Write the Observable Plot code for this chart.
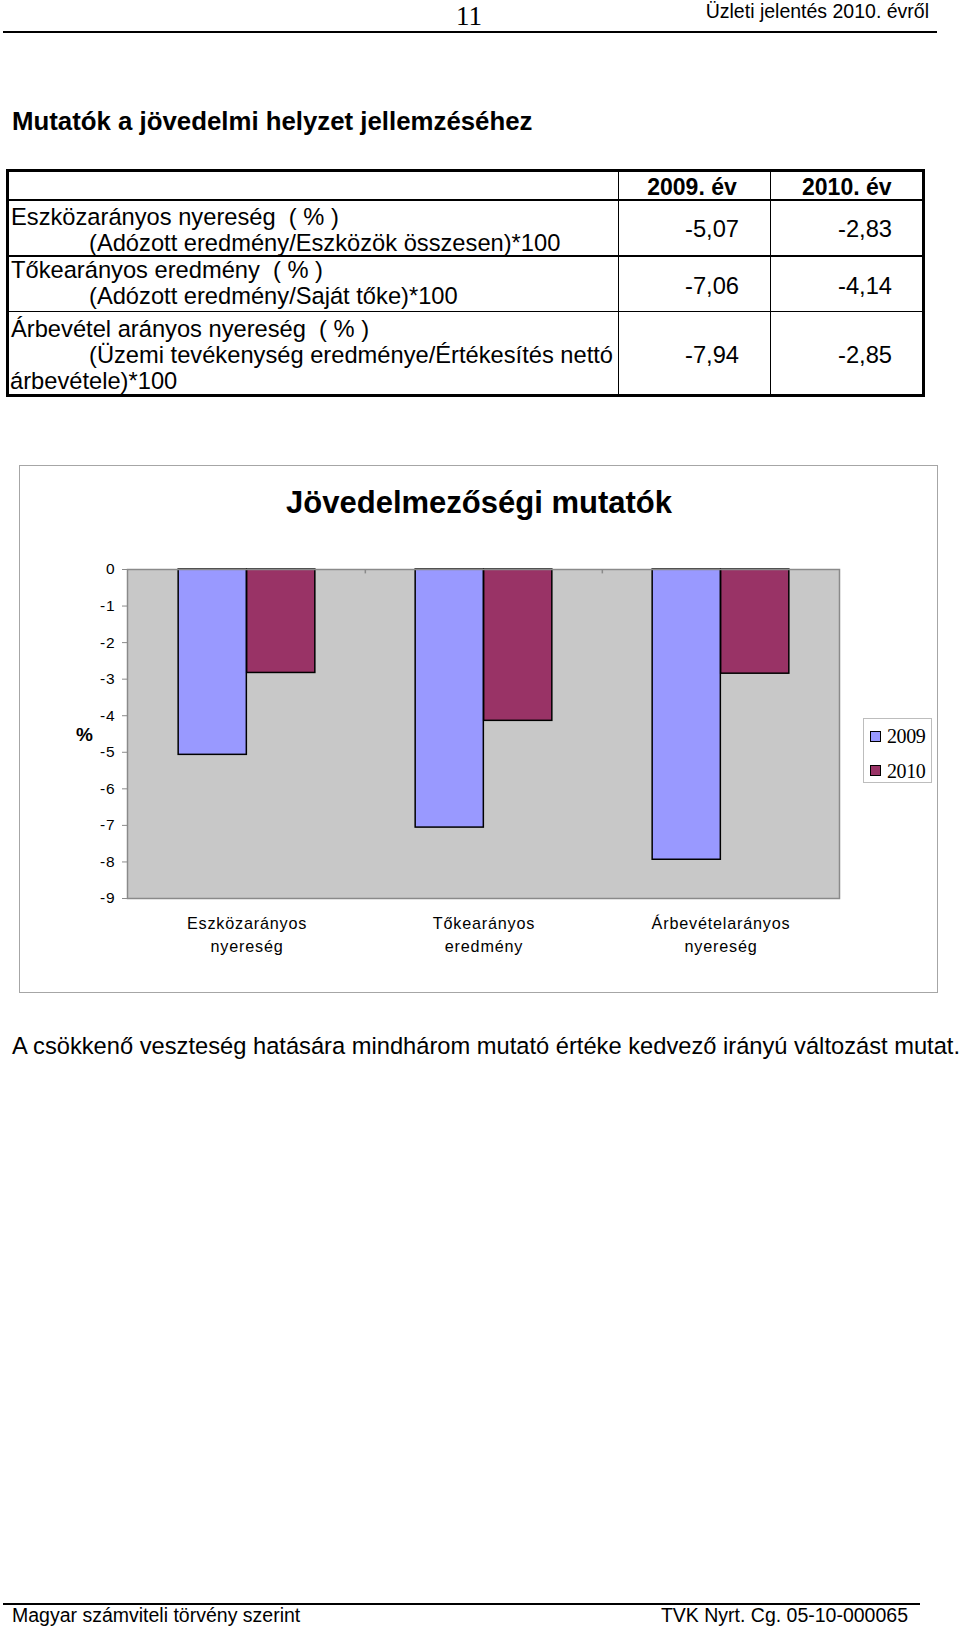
<!DOCTYPE html>
<html><head><meta charset="utf-8">
<script src="https://cdn.jsdelivr.net/npm/d3@7"></script>
<script src="https://cdn.jsdelivr.net/npm/@observablehq/plot@0.6"></script>
<style>
html,body{margin:0;padding:0;background:#fff;}
#page{position:relative;width:960px;height:1626px;overflow:hidden;font-family:"Liberation Sans",Arial,Helvetica,sans-serif;color:#000;}
.abs{position:absolute;white-space:nowrap;}
svg text{letter-spacing:0.8px;}
</style></head><body><div id="page"></div>
<script>
// ---- data ----
const pageNumber = "11";
const headerRight = "Üzleti jelentés 2010. évről";
const sectionTitle = "Mutatók a jövedelmi helyzet jellemzéséhez";
const tableYears = ["2009. év", "2010. év"];
const indicatorNames = ["Eszközarányos nyereség  ( % )", "Tőkearányos eredmény  ( % )", "Árbevétel arányos nyereség  ( % )"];
const indicatorFormulas = [
  ["(Adózott eredmény/Eszközök összesen)*100"],
  ["(Adózott eredmény/Saját tőke)*100"],
  ["(Üzemi tevékenység eredménye/Értékesítés nettó", "árbevétele)*100"]
];
const values2009 = [-5.07, -7.06, -7.94];
const values2010 = [-2.83, -4.14, -2.85];
const chartTitle = "Jövedelmezőségi mutatók";
const categories = ["Eszközarányos\nnyereség", "Tőkearányos\neredmény", "Árbevételarányos\nnyereség"];
const seriesNames = ["2009", "2010"];
const seriesColors = ["#9999ff", "#993366"];
const yTicks = [0, -1, -2, -3, -4, -5, -6, -7, -8, -9];
const yLabel = "%";
const conclusion = "A csökkenő veszteség hatására mindhárom mutató értéke kedvező irányú változást mutat.";
const footerLeft = "Magyar számviteli törvény szerint";
const footerRight = "TVK Nyrt. Cg. 05-10-000065";

// ---- helpers ----
const page = document.getElementById("page");
function el(css, text, cls = "abs") {
  const d = document.createElement("div");
  d.className = cls;
  d.style.cssText = css;
  if (text != null) d.textContent = text;
  page.appendChild(d);
  return d;
}
const fmt = v => v.toFixed(2).replace(".", ",");

// ---- page header ----
el("left:0;width:938px;top:1px;text-align:center;font-family:'Liberation Serif','Times New Roman',serif;font-size:27px;line-height:30px;", pageNumber);
el("right:31px;top:0px;font-size:19.5px;line-height:22px;", headerRight);
el("left:3px;top:31px;width:934px;height:2px;background:#000;");
el("left:12px;top:106px;font-size:25.8px;line-height:30px;font-weight:bold;", sectionTitle);

// ---- table ----
const TF = 23.7;
el("left:6px;top:169px;width:919px;height:228px;border:3px solid #000;box-sizing:border-box;");
[200, 256, 311.5].forEach(y => el(`left:8px;top:${y - 0.75}px;width:915px;height:1.5px;background:#000;`));
[618.3, 770.7].forEach(x => el(`left:${x - 0.75}px;top:171px;width:1.5px;height:224px;background:#000;`));
const colCenters = [692, 846.8];
const colRights = [739, 892];
tableYears.forEach((t, i) => el(`left:${colCenters[i] - 75}px;width:150px;text-align:center;top:173px;font-size:23px;line-height:28px;font-weight:bold;`, t));
const rowFirstLine = [216.7, 270, 328.5];
const rowValueY = [229.3, 286, 355];
const lh = 26.2;
indicatorNames.forEach((name, r) => {
  el(`left:11px;top:${rowFirstLine[r] - 14}px;font-size:${TF}px;line-height:28px;white-space:pre;`, name);
  indicatorFormulas[r].forEach((f, k) => {
    const x = k === 0 ? 89 : 10;
    el(`left:${x}px;top:${rowFirstLine[r] + (k + 1) * lh - 14}px;font-size:${TF}px;line-height:28px;`, f);
  });
  [values2009[r], values2010[r]].forEach((v, c) => {
    el(`right:${960 - colRights[c]}px;top:${rowValueY[r] - 14}px;font-size:${TF}px;line-height:28px;`, fmt(v));
  });
});

// ---- chart box ----
el("left:19px;top:465px;width:919px;height:528px;border:1.5px solid #a6a6a6;box-sizing:border-box;");
el("left:0;width:958px;text-align:center;top:485px;font-size:31px;line-height:36px;font-weight:bold;", chartTitle);
el("left:76px;top:723px;font-size:19px;line-height:24px;font-weight:bold;", yLabel);

// ---- Plot chart ----
const W = 960, H = 420;
const mL = 127, mR = 121, mT = 29, mB = 62;
const bw = (W - mL - mR) / categories.length;
const barW = 68.5;
const rows = categories.map((c, i) => ({cat: c, v2009: values2009[i], v2010: values2010[i]}));

const chart = Plot.plot({
  width: W, height: H,
  marginLeft: mL, marginRight: mR, marginTop: mT, marginBottom: mB,
  style: {fontFamily: "'Liberation Sans', Arial, sans-serif", fontSize: "15px", color: "#000", background: "transparent"},
  x: {type: "band", domain: categories, padding: 0, axis: null},
  y: {domain: [-9, 0], axis: null},
  marks: [
    Plot.frame({fill: "#c8c8c8", stroke: "none"}),
    Plot.barY(rows, {x: "cat", y: "v2009", fill: seriesColors[0], stroke: "#000", strokeWidth: 1.5,
      insetLeft: bw / 2 - barW, insetRight: bw / 2}),
    Plot.barY(rows, {x: "cat", y: "v2010", fill: seriesColors[1], stroke: "#000", strokeWidth: 1.5,
      insetLeft: bw / 2, insetRight: bw / 2 - barW}),
    Plot.frame({stroke: "#8a8a8a", strokeWidth: 1.5}),
    Plot.ruleX(categories.slice(1), {x: d => d, y1: 0, y2: -0.12, dx: -bw / 2, stroke: "#8a8a8a", strokeWidth: 1.5}),
    Plot.axisY({ticks: yTicks, tickSize: 5, tickPadding: 7, stroke: "#8a8a8a", fontSize: 15.5, tickFormat: d => String(d)}),
    Plot.text(categories, {x: d => d, text: d => d, frameAnchor: "bottom", lineAnchor: "middle", dy: 34.5,
      lineHeight: 1.45, fontSize: 16.2, fill: "#000"})
  ]
});
chart.style.position = "absolute";
chart.style.left = "0px";
chart.style.top = "540px";
page.appendChild(chart);

// ---- legend ----
el("left:862.5px;top:718px;width:69px;height:65px;border:1px solid #bdbdbd;box-sizing:border-box;background:#fff;");
const legendY = [736, 770.7];
seriesNames.forEach((s, i) => {
  el(`left:870px;top:${legendY[i] - 5.5}px;width:11px;height:11px;background:${seriesColors[i]};border:1.3px solid #000;box-sizing:border-box;`);
  el(`left:887px;top:${legendY[i] - 12}px;font-family:'Liberation Serif','Times New Roman',serif;font-size:20px;line-height:24px;letter-spacing:-0.4px;`, s);
});

// ---- conclusion & footer ----
el(`left:12px;top:1032px;font-size:${TF}px;line-height:28px;`, conclusion);
el("left:3px;top:1603px;width:917px;height:1.5px;background:#000;");
el("left:12px;top:1604px;font-size:19.5px;line-height:22px;", footerLeft);
el("right:52px;top:1604px;font-size:19.5px;line-height:22px;", footerRight);
</script></body></html>
